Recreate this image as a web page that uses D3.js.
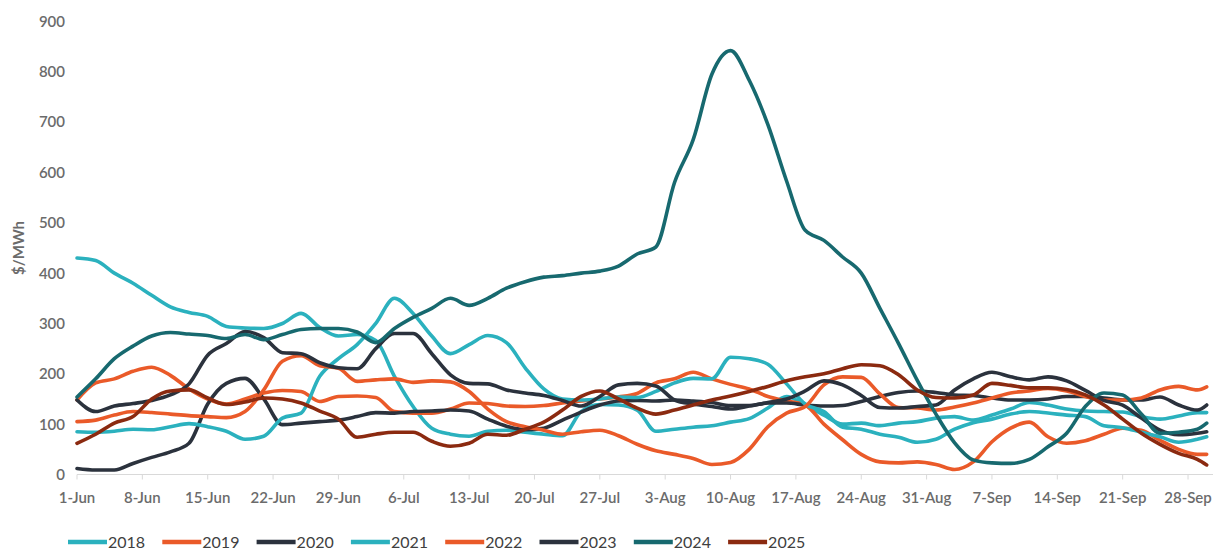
<!DOCTYPE html>
<html>
<head>
<meta charset="utf-8">
<script src="https://cdn.jsdelivr.net/npm/d3@7"></script>
<style>
  html, body { margin: 0; padding: 0; background: #ffffff; }
  svg { display: block; }
  text { font-family: Lato, "Open Sans", sans-serif; }
</style>
</head>
<body>
<svg id="chart" width="1231" height="550"></svg>
<script>
// Day offsets from 1 June
const days = [0,2,4,6,8,10,12,14,16,18,20,22,24,26,28,30,32,34,36,38,40,42,44,46,48,50,52,54,56,58,60,
  62,64,66,68,70,72,74,76,78,80,82,84,86,88,90,92,94,96,98,100,102,104,106,108,110,112,114,116,118,120,121];

// Tick positions (day offsets) and their labels
const tickDays = [0,7,14,21,28,35,42,49,56,63,70,77,84,91,98,105,112,119];
const tickLabels = ["1-Jun","8-Jun","15-Jun","22-Jun","29-Jun","6-Jul","13-Jul","20-Jul","27-Jul",
  "3-Aug","10-Aug","17-Aug","24-Aug","31-Aug","7-Sep","14-Sep","21-Sep","28-Sep"];
const yTicks = [0,100,200,300,400,500,600,700,800,900];

// Price series, $/MWh
const v2018 = [430,425,400,380,356,333,322,314,294,291,290,300,320,292,275,278,266,195,135,92,80,76,86,88,84,80,77,125,139,138,128,
  86,90,94,97,104,111,132,155,138,118,100,102,97,102,105,112,115,108,118,130,143,138,130,126,125,124,115,110,116,123,123];
const v2019 = [148,182,190,205,213,197,170,150,140,150,162,167,165,145,155,156,153,125,122,122,130,142,141,136,135,137,142,146,150,154,161,
  182,190,203,190,179,170,155,146,138,100,69,40,25,23,25,20,10,25,65,92,104,75,62,67,80,92,88,68,50,40,40];
const v2020 = [12,9,9,22,34,45,62,140,181,191,150,99,102,105,108,115,123,122,125,126,128,126,110,96,89,92,108,124,138,146,147,
  146,148,146,143,137,137,142,142,138,136,137,145,155,163,166,163,158,157,152,148,148,150,155,155,152,148,148,154,138,128,138];
const v2021 = [85,84,86,90,89,95,101,95,86,70,76,112,122,195,230,258,300,350,320,275,240,258,276,262,212,170,150,148,150,154,153,
  165,182,191,190,233,230,219,180,140,125,94,90,80,74,64,70,90,103,110,120,125,122,118,115,97,93,84,75,64,70,75];
const v2022 = [105,108,118,125,123,120,117,115,113,125,168,225,236,216,211,185,188,190,183,186,184,165,130,105,95,88,80,85,88,77,60,
  47,40,32,20,24,50,95,122,135,178,194,193,160,133,132,128,134,142,152,162,166,171,166,155,148,148,152,168,175,168,174];
const v2023 = [148,125,136,141,147,158,180,237,260,284,272,242,240,222,212,210,250,280,280,240,198,181,180,168,162,157,147,136,155,178,181,
  176,148,140,135,130,136,143,150,166,186,178,157,133,132,135,138,168,190,203,194,188,194,186,167,147,138,112,88,79,82,85];
const v2024 = [154,190,230,255,275,282,279,276,270,278,268,278,288,290,290,283,262,290,312,330,350,336,350,370,383,392,395,400,404,414,438,
  452,580,665,795,842,783,695,583,485,465,432,400,330,260,187,120,63,29,23,22,30,55,82,135,162,158,120,82,84,90,102];
const v2025 = [62,80,102,115,150,166,168,152,139,144,152,150,142,126,110,74,80,84,84,66,56,62,80,78,90,104,128,155,166,150,132,
  120,128,138,148,156,165,175,186,194,200,210,218,216,198,168,153,152,158,181,177,172,172,169,158,138,110,82,60,42,30,19];

const years = ["2018","2019","2020","2021","2022","2023","2024","2025"];
const seriesValues = [v2018, v2019, v2020, v2021, v2022, v2023, v2024, v2025];
const colors = ["#2bb1be","#ea5a29","#2b323d","#2bb1be","#ea5a29","#2b323d","#17696f","#8b2a10"];

const svg = d3.select("#chart");

const x = d3.scaleLinear().domain([0, 121]).range([77, 1206.7]);
const y = d3.scaleLinear().domain([0, 900]).range([474.5, 21.4]);

// Baseline axis with small tick marks
const axisG = svg.append("g");
axisG.append("line")
  .attr("x1", 77).attr("x2", 1213)
  .attr("y1", y(0)).attr("y2", y(0))
  .attr("stroke", "#d9d9d9").attr("stroke-width", 1);
axisG.selectAll("line.tick")
  .data(tickDays)
  .join("line")
  .attr("class", "tick")
  .attr("x1", d => x(d)).attr("x2", d => x(d))
  .attr("y1", y(0)).attr("y2", y(0) + 5)
  .attr("stroke", "#d9d9d9").attr("stroke-width", 1);
axisG.selectAll("text.xl")
  .data(tickDays)
  .join("text")
  .attr("class", "xl")
  .attr("x", d => x(d))
  .attr("y", 503)
  .attr("text-anchor", "middle")
  .attr("font-size", 15)
  .attr("font-weight", 600)
  .attr("fill", "#6b6b6b")
  .text((d, i) => tickLabels[i]);

// Y tick labels
svg.append("g").selectAll("text")
  .data(yTicks)
  .join("text")
  .attr("x", 65)
  .attr("y", d => y(d))
  .attr("dy", "0.36em")
  .attr("text-anchor", "end")
  .attr("font-size", 15)
  .attr("font-weight", 600)
  .attr("fill", "#6b6b6b")
  .text(d => d);

// Y axis title
svg.append("text")
  .attr("transform", "translate(24,248) rotate(-90)")
  .attr("text-anchor", "middle")
  .attr("font-size", 15)
  .attr("font-weight", 700)
  .attr("fill", "#6b6b6b")
  .text("$/MWh");

// Lines
const line = d3.line()
  .x((d, i) => x(days[i]))
  .y(d => y(d))
  .curve(d3.curveMonotoneX);

svg.append("g").selectAll("path")
  .data(seriesValues)
  .join("path")
  .attr("d", d => line(d))
  .attr("fill", "none")
  .attr("stroke", (d, i) => colors[i])
  .attr("stroke-width", 3.6)
  .attr("stroke-linejoin", "round")
  .attr("stroke-linecap", "round");

// Legend
const legend = svg.append("g").attr("transform", "translate(68,542)");
const item = legend.selectAll("g")
  .data(years)
  .join("g")
  .attr("transform", (d, i) => `translate(${i * 94.3},0)`);
item.append("line")
  .attr("x1", 0).attr("x2", 39)
  .attr("y1", 0).attr("y2", 0)
  .attr("stroke", (d, i) => colors[i])
  .attr("stroke-width", 4.5);
item.append("text")
  .attr("x", 40)
  .attr("y", 0)
  .attr("dy", "0.36em")
  .attr("font-size", 16)
  .attr("fill", "#404040")
  .text(d => d);
</script>
</body>
</html>
